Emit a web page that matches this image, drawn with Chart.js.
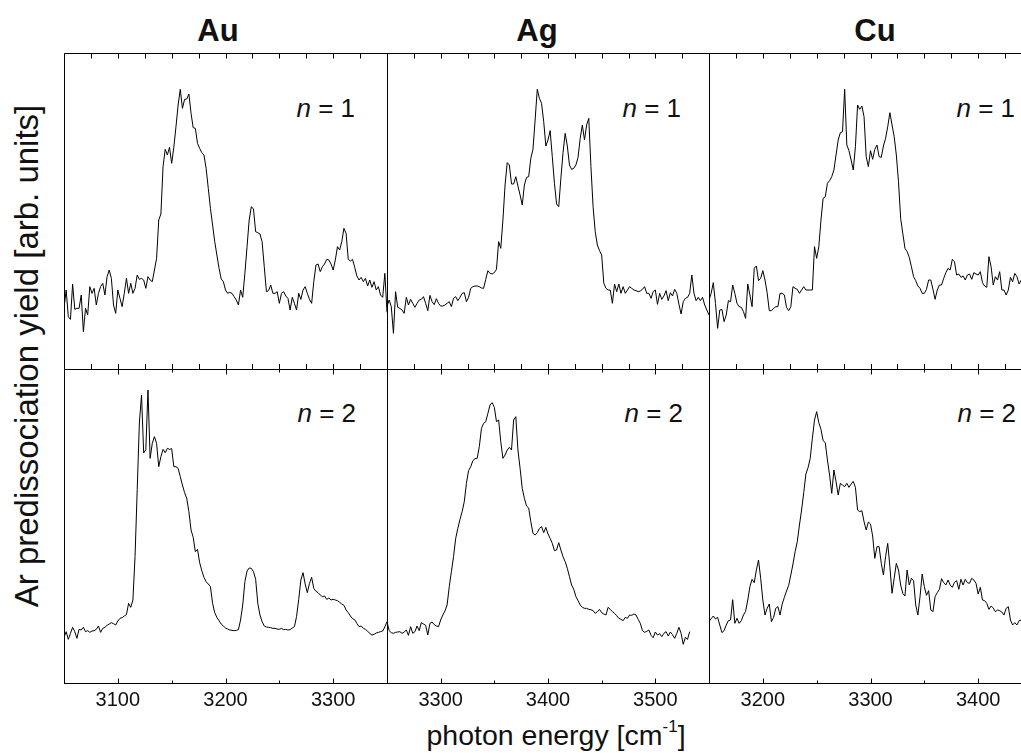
<!DOCTYPE html>
<html>
<head>
<meta charset="utf-8">
<script src="https://cdn.jsdelivr.net/npm/chart.js@4.4.1/dist/chart.umd.min.js"></script>
<style>
  html, body { margin: 0; padding: 0; background: #fff; overflow: hidden; }
  #page { position: relative; width: 1021px; height: 753px; overflow: hidden;
          font-family: "Liberation Sans", Arial, sans-serif; color: #111; }
  .panel { position: absolute; }
  .t { position: absolute; white-space: nowrap; line-height: 1; }
  .title { font-size: 31px; font-weight: bold; transform: translateX(-50%); }
  .nlab { font-size: 26px; }
  .xtitle { font-size: 28.5px; transform: translateX(-50%); }
  .xtitle .sup { font-size: 17px; position: relative; top: -13px; }
  .ytitle { font-size: 33px; transform: translate(-50%, -50%) rotate(-90deg); }
</style>
</head>
<body>
<div id="page">
  <div class="t title" style="left:218px;top:15px">Au</div>
  <div class="t title" style="left:537px;top:15px">Ag</div>
  <div class="t title" style="left:875px;top:15px">Cu</div>

  <div class="t nlab" style="right:666px;top:95px"><i>n</i> = 1</div>
  <div class="t nlab" style="right:340px;top:95px"><i>n</i> = 1</div>
  <div class="t nlab" style="right:6px;top:95px"><i>n</i> = 1</div>
  <div class="t nlab" style="right:665px;top:400px"><i>n</i> = 2</div>
  <div class="t nlab" style="right:338px;top:400px"><i>n</i> = 2</div>
  <div class="t nlab" style="right:5px;top:400px"><i>n</i> = 2</div>

  <div class="t ytitle" style="left:26px;top:356px">Ar predissociation yield [arb. units]</div>
  <div class="t xtitle" style="left:556px;top:721px">photon energy [cm<span class="sup">-1</span>]</div>
</div>

<script>
/* photon energies, 2 cm-1 steps */
const E_AU = [
  3050,3052,3054,3056,3058,3060,3062,3064,3066,3068,
  3070,3072,3074,3076,3078,3080,3082,3084,3086,3088,
  3090,3092,3094,3096,3098,3100,3102,3104,3106,3108,
  3110,3112,3114,3116,3118,3120,3122,3124,3126,3128,
  3130,3132,3134,3136,3138,3140,3142,3144,3146,3148,
  3150,3152,3154,3156,3158,3160,3162,3164,3166,3168,
  3170,3172,3174,3176,3178,3180,3182,3184,3186,3188,
  3190,3192,3194,3196,3198,3200,3202,3204,3206,3208,
  3210,3212,3214,3216,3218,3220,3222,3224,3226,3228,
  3230,3232,3234,3236,3238,3240,3242,3244,3246,3248,
  3250,3252,3254,3256,3258,3260,3262,3264,3266,3268,
  3270,3272,3274,3276,3278,3280,3282,3284,3286,3288,
  3290,3292,3294,3296,3298,3300,3302,3304,3306,3308,
  3310,3312,3314,3316,3318,3320,3322,3324,3326,3328,
  3330,3332,3334,3336,3338,3340,3342,3344,3346,3348,
  3350
];
const E_AG = [
  3250,3252,3254,3256,3258,3260,3262,3264,3266,3268,
  3270,3272,3274,3276,3278,3280,3282,3284,3286,3288,
  3290,3292,3294,3296,3298,3300,3302,3304,3306,3308,
  3310,3312,3314,3316,3318,3320,3322,3324,3326,3328,
  3330,3332,3334,3336,3338,3340,3342,3344,3346,3348,
  3350,3352,3354,3356,3358,3360,3362,3364,3366,3368,
  3370,3372,3374,3376,3378,3380,3382,3384,3386,3388,
  3390,3392,3394,3396,3398,3400,3402,3404,3406,3408,
  3410,3412,3414,3416,3418,3420,3422,3424,3426,3428,
  3430,3432,3434,3436,3438,3440,3442,3444,3446,3448,
  3450,3452,3454,3456,3458,3460,3462,3464,3466,3468,
  3470,3472,3474,3476,3478,3480,3482,3484,3486,3488,
  3490,3492,3494,3496,3498,3500,3502,3504,3506,3508,
  3510,3512,3514,3516,3518,3520,3522,3524,3526,3528,
  3530,3532,3534,3536,3538,3540,3542,3544,3546,3548,
  3550
];
const E_CU = [
  3150,3152,3154,3156,3158,3160,3162,3164,3166,3168,
  3170,3172,3174,3176,3178,3180,3182,3184,3186,3188,
  3190,3192,3194,3196,3198,3200,3202,3204,3206,3208,
  3210,3212,3214,3216,3218,3220,3222,3224,3226,3228,
  3230,3232,3234,3236,3238,3240,3242,3244,3246,3248,
  3250,3252,3254,3256,3258,3260,3262,3264,3266,3268,
  3270,3272,3274,3276,3278,3280,3282,3284,3286,3288,
  3290,3292,3294,3296,3298,3300,3302,3304,3306,3308,
  3310,3312,3314,3316,3318,3320,3322,3324,3326,3328,
  3330,3332,3334,3336,3338,3340,3342,3344,3346,3348,
  3350,3352,3354,3356,3358,3360,3362,3364,3366,3368,
  3370,3372,3374,3376,3378,3380,3382,3384,3386,3388,
  3390,3392,3394,3396,3398,3400,3402,3404,3406,3408,
  3410,3412,3414,3416,3418,3420,3422,3424,3426,3428,
  3430,3432,3434,3436,3438,3440
];

/* Ar predissociation yield [arb. units] */
const AU_N1 = [
  18.2,23.7,15.7,14.9,25.5,17.9,18.2,18.2,22.2,11.2,
  18.2,16.2,24.7,22.7,24.2,19.2,22.7,24.7,25.7,22.2,
  27.7,29.7,27.2,19.2,16.7,23.7,21.2,18.7,22.7,27.2,
  22.7,25.7,22.7,24.2,28.2,26.9,27.2,26.7,24.2,27.7,
  26.7,26.2,29.7,33.2,44.7,46.5,60.7,65.9,64.2,66.5,
  61.7,66.5,72.7,79.2,83.9,78.2,80.9,81.0,82.5,76.7,
  72.4,72.2,67.7,66.2,64.9,64.2,60.2,54.2,48.2,43.2,
  38.2,34.2,30.2,27.0,26.2,23.7,22.7,23.0,22.7,21.7,
  20.7,19.2,23.7,21.5,28.7,36.7,44.7,48.7,48.0,41.2,
  40.9,40.5,38.2,30.7,23.2,23.5,25.2,22.7,22.7,23.2,
  19.7,22.7,23.2,21.9,21.2,17.7,21.5,19.7,17.7,22.7,
  20.9,23.7,24.7,22.7,20.9,19.7,26.2,31.2,31.5,29.2,
  30.7,31.5,32.9,32.7,31.5,29.7,32.7,36.7,35.7,38.2,
  42.2,40.7,32.9,32.4,32.9,30.5,27.9,26.7,27.5,26.2,
  27.2,24.9,26.7,24.5,26.2,23.7,24.7,22.2,21.5,28.7,
  17.0
];
const AG_N1 = [
  18.7,20.7,18.7,10.7,23.2,18.5,18.2,17.7,16.7,21.5,
  19.2,20.9,19.7,18.5,19.7,20.7,20.9,21.7,19.7,17.5,
  22.1,20.2,19.3,21.1,19.7,18.9,18.9,19.2,19.7,20.2,
  18.7,21.2,21.7,20.5,21.5,22.7,22.9,20.2,21.5,24.2,
  24.7,24.9,24.9,24.7,24.3,24.2,26.9,29.5,28.7,28.5,
  28.9,29.9,38.2,36.2,44.7,55.2,61.9,61.2,55.5,55.5,
  57.7,54.9,52.2,49.2,55.2,57.5,57.7,63.2,65.9,74.7,
  83.9,81.2,79.7,74.2,66.9,68.7,71.5,63.7,55.7,49.5,
  48.7,57.2,64.9,70.7,66.9,61.2,59.9,60.2,61.2,63.5,
  69.2,73.2,68.7,73.2,75.2,60.7,48.7,41.2,37.2,35.5,
  34.2,25.7,24.2,23.7,23.7,19.7,25.5,23.2,25.5,22.7,
  24.7,22.7,23.7,24.7,24.2,23.7,23.5,23.2,23.4,23.9,
  24.7,22.7,22.7,21.2,23.2,23.7,19.4,22.7,20.9,21.9,
  23.5,20.5,22.9,21.9,23.9,22.7,19.4,16.5,20.2,21.2,
  21.5,22.7,28.2,22.7,20.5,21.5,20.5,21.5,19.2,17.7,
  16.2
];
const CU_N1 = [
  20.7,22.7,25.9,19.7,12.2,17.7,17.9,14.2,16.2,20.5,
  20.2,25.2,22.7,19.7,18.7,18.5,17.2,15.2,25.5,22.2,
  18.7,30.2,30.9,26.5,27.2,29.5,26.7,22.9,17.5,17.5,
  18.2,18.7,18.7,22.7,22.7,22.2,18.5,17.5,18.7,24.7,
  24.2,23.9,22.7,23.7,24.7,23.7,23.7,23.7,23.7,36.7,
  33.2,36.7,44.7,51.2,51.7,55.7,56.5,57.7,59.7,64.2,
  68.7,70.9,71.2,83.9,67.2,65.5,62.7,59.7,66.7,79.2,
  77.9,78.9,75.7,63.7,60.7,65.5,62.9,65.9,67.2,63.7,
  63.5,66.9,69.2,72.7,76.9,73.2,69.7,64.2,56.2,45.2,
  40.7,36.2,35.2,33.5,30.7,27.7,26.5,24.9,24.2,22.7,
  22.7,23.9,26.7,26.7,23.9,20.9,23.7,25.2,25.2,27.2,
  28.9,30.2,29.7,32.9,32.2,28.2,28.5,27.5,27.9,26.7,
  28.2,28.5,26.9,28.9,28.5,28.2,29.2,25.9,24.9,24.5,
  33.7,30.7,25.2,27.7,26.7,29.2,23.7,23.7,22.2,23.7,
  27.5,26.2,28.7,27.7,25.5,26.7
];
const AU_N2 = [
  13.7,15.4,13.1,14.9,16.7,15.4,13.4,16.1,15.9,16.7,
  15.4,15.7,15.2,15.6,15.7,16.1,17.1,15.2,16.4,16.7,
  17.3,17.7,18.1,17.8,17.4,18.6,19.4,19.6,20.1,20.5,
  23.9,22.7,24.9,38.0,58.0,78.0,86.4,69.0,70.0,87.9,
  67.4,71.9,73.9,71.9,64.9,67.9,70.1,69.1,70.4,70.1,
  70.3,64.9,64.9,64.4,61.9,59.4,57.1,55.4,51.4,45.9,
  43.7,39.4,40.1,36.1,33.7,31.7,30.4,29.7,28.9,23.9,
  21.1,19.7,18.7,17.7,17.1,16.5,16.2,15.9,15.8,15.7,
  15.8,16.0,18.9,23.4,30.4,33.6,34.5,34.4,33.4,31.1,
  23.9,20.4,18.4,17.1,16.8,16.7,16.6,16.4,16.4,16.2,
  16.1,16.4,16.0,16.1,15.9,16.0,16.5,16.9,19.9,25.1,
  30.9,33.1,29.7,27.1,29.9,31.7,28.4,27.5,27.1,26.4,
  25.9,26.1,25.1,25.5,24.9,25.1,24.9,24.7,24.2,23.7,
  23.3,21.9,21.1,20.1,19.3,19.0,17.9,16.9,17.1,16.4,
  16.1,15.5,14.9,14.4,14.6,15.0,15.2,15.4,15.6,16.8,
  18.4
];
const AG_N2 = [
  18.4,15.7,15.1,14.9,15.2,15.3,15.4,14.9,15.3,15.9,
  14.3,16.9,14.9,15.4,17.1,15.7,18.1,17.7,17.3,14.4,
  17.9,18.3,17.5,17.1,16.9,18.9,20.4,21.6,23.4,28.9,
  33.4,37.9,43.4,46.4,49.1,51.4,54.4,59.9,63.7,64.9,
  66.7,67.3,67.4,70.9,76.4,77.9,78.4,80.9,83.4,84.1,
  82.7,78.4,78.9,72.4,67.4,68.4,69.9,70.7,69.9,78.9,
  79.9,69.9,64.4,58.4,55.4,53.1,52.5,48.4,44.9,44.4,
  45.1,46.4,46.9,45.1,46.7,44.7,43.4,41.9,39.7,39.9,
  42.1,39.9,37.9,36.4,34.4,31.9,29.4,28.1,25.9,24.7,
  23.4,22.7,22.4,22.4,22.1,22.0,21.7,20.9,21.4,22.1,
  21.1,20.7,20.4,22.7,22.1,21.4,20.9,20.2,19.4,19.1,
  18.7,19.7,19.4,20.4,20.3,20.7,20.4,19.1,17.9,15.7,
  15.2,15.5,15.9,14.3,13.6,15.3,14.4,14.8,13.9,14.9,
  15.4,14.1,15.3,14.5,13.4,14.9,16.7,14.9,11.6,13.7,
  13.1,15.4
];
const CU_N2 = [
  18.4,19.3,20.1,19.2,19.7,17.4,15.1,15.7,17.4,18.7,
  18.9,25.0,17.9,19.4,17.9,18.7,20.4,21.5,24.9,28.9,
  31.1,30.1,33.9,36.9,31.4,24.9,20.4,22.4,23.7,18.4,
  19.7,22.4,22.9,20.4,23.7,25.7,27.6,29.3,32.4,35.7,
  39.4,42.4,47.4,51.9,57.1,62.7,64.6,67.4,73.4,78.9,
  81.4,78.1,76.1,72.7,72.1,66.9,62.4,56.9,63.9,60.4,
  56.4,59.9,59.4,58.9,59.9,58.7,59.7,60.5,58.7,51.9,
  51.4,51.7,48.4,45.9,48.3,47.7,44.1,37.4,40.9,40.9,
  35.9,32.4,37.9,41.9,34.9,26.9,31.4,35.9,33.9,29.4,
  26.9,26.1,33.9,29.4,31.4,30.7,23.4,20.4,25.9,32.7,
  28.9,26.3,27.7,21.9,21.4,25.9,27.1,28.1,31.3,30.1,
  29.4,30.9,29.4,28.7,30.2,30.7,28.1,31.1,29.4,31.1,
  30.1,29.9,31.4,30.9,29.9,26.7,28.7,24.9,24.7,23.9,
  22.1,23.1,22.5,21.4,21.9,21.7,21.3,20.4,22.4,22.9,
  18.9,17.4,18.1,17.4,18.7,18.9
];

const TICKS_AU = [3100, 3200, 3300];
const TICKS_AG = [3300, 3400, 3500];
const TICKS_CU = [3200, 3300, 3400];

/* frame + inward ticks + bottom tick labels */
const panelFrame = {
  id: 'panelFrame',
  afterDatasetsDraw(chart, args, o) {
    const { ctx, chartArea: a } = chart;
    const xs = chart.scales.x;
    const top = a.top + 0.5, bot = a.bottom - 0.5, left = a.left + 0.5;
    ctx.save();
    ctx.strokeStyle = '#000';
    ctx.lineWidth = 1;
    ctx.beginPath();
    ctx.moveTo(left, a.bottom);
    ctx.lineTo(left, top);
    ctx.lineTo(a.right + 1, top);
    if (o.row === 1) { ctx.moveTo(a.left, bot); ctx.lineTo(a.right + 1, bot); }
    for (let v = Math.ceil(xs.min / o.step) * o.step; v <= xs.max; v += o.step) {
      const px = Math.round(xs.getPixelForValue(v)) + 0.5;
      const len = v % 100 === 0 ? o.major : o.minor;
      ctx.moveTo(px, top); ctx.lineTo(px, top + len);
      const b = o.row === 0 ? a.bottom : bot;
      ctx.moveTo(px, b); ctx.lineTo(px, b - len);
    }
    ctx.stroke();
    if (o.labels) {
      ctx.fillStyle = '#111';
      ctx.font = '20px "Liberation Sans", Arial, sans-serif';
      ctx.textAlign = 'center';
      ctx.textBaseline = 'alphabetic';
      o.labels.forEach(v => ctx.fillText(String(v), xs.getPixelForValue(v), a.bottom + 22));
    }
    ctx.restore();
  }
};

const COLS = [
  { left: 64, width: 323 },
  { left: 387, width: 322 },
  { left: 709, width: 323 }
];

function makePanel(xs, ys, col, row, min, max, labels) {
  const c = COLS[col];
  const div = document.createElement('div');
  div.className = 'panel';
  const padB = row === 0 ? 4 : 40;
  const h = row === 0 ? 316 : 315;
  div.style.left = (c.left - 4) + 'px';
  div.style.top = (row === 0 ? 49 : 365) + 'px';
  div.style.width = (c.width + 8) + 'px';
  div.style.height = (h + 4 + padB) + 'px';
  const cv = document.createElement('canvas');
  div.appendChild(cv);
  document.getElementById('page').appendChild(div);

  new Chart(cv, {
    type: 'line',
    data: {
      datasets: [{
        data: ys.map((y, i) => ({ x: xs[i], y })),
        borderColor: '#000',
        borderWidth: 1,
        pointRadius: 0,
        tension: 0,
        fill: false
      }]
    },
    options: {
      animation: false,
      responsive: true,
      maintainAspectRatio: false,
      events: [],
      layout: { padding: { left: 4, right: 4, top: 4, bottom: padB } },
      plugins: {
        legend: { display: false },
        tooltip: { enabled: false },
        panelFrame: row === 0
          ? { row, step: 25, major: 5, minor: 5 }
          : { row, step: 50, major: 5, minor: 3, labels }
      },
      scales: {
        x: { type: 'linear', min, max, display: false },
        y: row === 0 ? { min: 0, max: 94.8, display: false }
                     : { min: -0.3, max: 94.2, display: false }
      }
    },
    plugins: [panelFrame]
  });
}

makePanel(E_AU, AU_N1, 0, 0, 3050, 3350);
makePanel(E_AG, AG_N1, 1, 0, 3250, 3550);
makePanel(E_CU, CU_N1, 2, 0, 3150, 3450);
makePanel(E_AU, AU_N2, 0, 1, 3050, 3350, TICKS_AU);
makePanel(E_AG, AG_N2, 1, 1, 3250, 3550, TICKS_AG);
makePanel(E_CU, CU_N2, 2, 1, 3150, 3450, TICKS_CU);
</script>
</body>
</html>
